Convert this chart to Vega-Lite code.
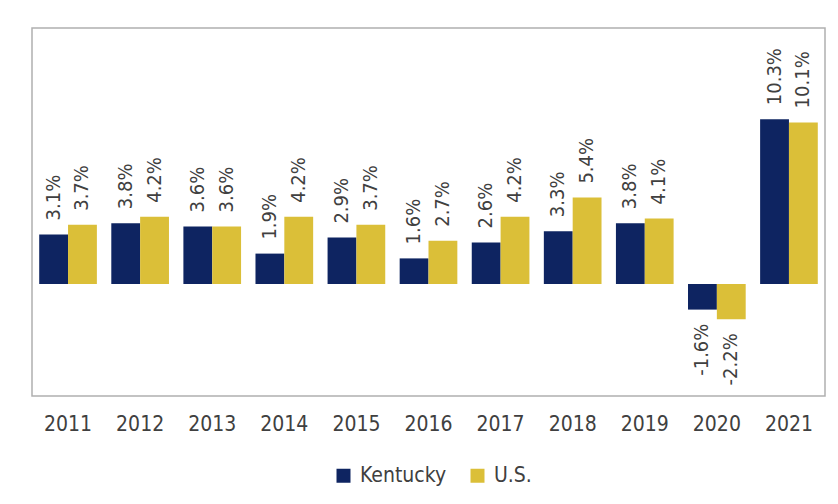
{
  "$schema": "https://vega.github.io/schema/vega-lite/v6.json",
  "width": 793,
  "height": 368,
  "autosize": {"type": "none"},
  "padding": {"left": 32, "top": 28, "right": 13, "bottom": 108},
  "background": "white",
  "config": {
    "view": {"stroke": "#b0b0b0", "strokeWidth": 1.5},
    "font": "DejaVu Sans Condensed"
  },
  "data": {
    "values": [
      {"year": "2011", "series": "Kentucky", "value": 3.1},
      {"year": "2012", "series": "Kentucky", "value": 3.8},
      {"year": "2013", "series": "Kentucky", "value": 3.6},
      {"year": "2014", "series": "Kentucky", "value": 1.9},
      {"year": "2015", "series": "Kentucky", "value": 2.9},
      {"year": "2016", "series": "Kentucky", "value": 1.6},
      {"year": "2017", "series": "Kentucky", "value": 2.6},
      {"year": "2018", "series": "Kentucky", "value": 3.3},
      {"year": "2019", "series": "Kentucky", "value": 3.8},
      {"year": "2020", "series": "Kentucky", "value": -1.6},
      {"year": "2021", "series": "Kentucky", "value": 10.3},
      {"year": "2011", "series": "U.S.", "value": 3.7},
      {"year": "2012", "series": "U.S.", "value": 4.2},
      {"year": "2013", "series": "U.S.", "value": 3.6},
      {"year": "2014", "series": "U.S.", "value": 4.2},
      {"year": "2015", "series": "U.S.", "value": 3.7},
      {"year": "2016", "series": "U.S.", "value": 2.7},
      {"year": "2017", "series": "U.S.", "value": 4.2},
      {"year": "2018", "series": "U.S.", "value": 5.4},
      {"year": "2019", "series": "U.S.", "value": 4.1},
      {"year": "2020", "series": "U.S.", "value": -2.2},
      {"year": "2021", "series": "U.S.", "value": 10.1}
    ]
  },
  "transform": [
    {"calculate": "(datum.value < 0 ? '-' : '') + format(abs(datum.value), '.1f') + '%'", "as": "label"}
  ],
  "encoding": {
    "x": {
      "field": "year",
      "type": "nominal",
      "scale": {"paddingInner": 0.2, "paddingOuter": 0.1},
      "axis": {
        "title": null,
        "labelAngle": 0,
        "domain": false,
        "ticks": false,
        "labelFontSize": 21,
        "labelColor": "#404040",
        "labelPadding": 17,
        "labelFont": "DejaVu Sans Condensed"
      }
    },
    "y": {
      "field": "value",
      "type": "quantitative",
      "scale": {"domain": [-7, 16], "nice": false, "zero": false},
      "axis": null
    },
    "xOffset": {"field": "series", "type": "nominal", "sort": ["Kentucky", "U.S."]}
  },
  "layer": [
    {
      "mark": {"type": "bar"},
      "encoding": {
        "color": {
          "field": "series",
          "type": "nominal",
          "scale": {"domain": ["Kentucky", "U.S."], "range": ["#0e2461", "#dbbf38"]},
          "legend": {
            "title": null,
            "orient": "none",
            "direction": "horizontal",
            "legendX": 301,
            "legendY": 437,
            "padding": 0,
            "symbolType": "square",
            "symbolSize": 196,
            "symbolStrokeWidth": 0,
            "symbolOpacity": 1,
            "labelFontSize": 21,
            "labelColor": "#404040",
            "labelFont": "DejaVu Sans Condensed",
            "labelOffset": 6,
            "columnPadding": 20
          }
        }
      }
    },
    {
      "data": {"values": [{}]},
      "mark": {"type": "rule", "color": "#d9d9d9", "strokeWidth": 2},
      "encoding": {"x": null, "xOffset": null, "y": {"datum": 0, "type": "quantitative"}}
    },
    {
      "transform": [{"filter": "datum.value >= 0"}],
      "mark": {"type": "text", "angle": 270, "align": "left", "baseline": "middle", "dx": 14, "fontSize": 20, "color": "#404040", "font": "DejaVu Sans Condensed"},
      "encoding": {"text": {"field": "label"}}
    },
    {
      "transform": [{"filter": "datum.value < 0"}],
      "mark": {"type": "text", "angle": 270, "align": "right", "baseline": "middle", "dx": -14, "fontSize": 20, "color": "#404040", "font": "DejaVu Sans Condensed"},
      "encoding": {"text": {"field": "label"}}
    }
  ]
}
